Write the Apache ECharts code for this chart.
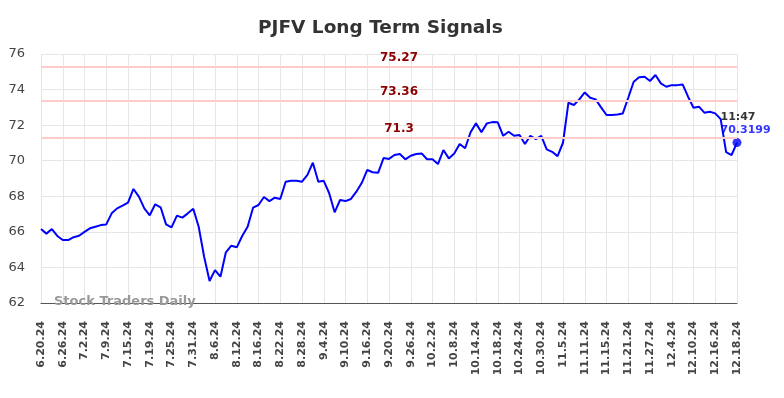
<!DOCTYPE html>
<html>
<head>
<meta charset="utf-8">
<title>PJFV Long Term Signals</title>
<script src="https://cdn.jsdelivr.net/npm/echarts@6/dist/echarts.min.js"></script>
<style>
  html, body { margin: 0; padding: 0; background: #fff; }
  #chart { width: 784px; height: 398px; }
</style>
</head>
<body>
<div id="chart"></div>
<script>
// x tick labels, one every 4 points
const tickLabels = [
  "6.20.24", "6.26.24", "7.2.24", "7.9.24", "7.15.24", "7.19.24", "7.25.24", "7.31.24",
  "8.6.24", "8.12.24", "8.16.24", "8.22.24", "8.28.24", "9.4.24", "9.10.24", "9.16.24",
  "9.20.24", "9.26.24", "10.2.24", "10.8.24", "10.14.24", "10.18.24", "10.24.24", "10.30.24",
  "11.5.24", "11.11.24", "11.15.24", "11.21.24", "11.27.24", "12.4.24", "12.10.24", "12.16.24",
  "12.18.24"
];

// closing prices
const prices = [
  66.16, 65.90, 66.16, 65.77, 65.54, 65.54, 65.70, 65.78, 66.00, 66.20,
  66.29, 66.38, 66.42, 67.04, 67.32, 67.47, 67.64, 68.41, 67.98, 67.32,
  66.93, 67.55, 67.38, 66.42, 66.25, 66.91, 66.80, 67.04, 67.30, 66.29,
  64.60, 63.24, 63.85, 63.48, 64.85, 65.22, 65.13, 65.77, 66.29, 67.36,
  67.51, 67.96, 67.73, 67.92, 67.85, 68.82, 68.87, 68.87, 68.82, 69.20,
  69.89, 68.82, 68.87, 68.17, 67.10, 67.79, 67.73, 67.85, 68.26, 68.76,
  69.48, 69.35, 69.32, 70.15, 70.10, 70.32, 70.38, 70.08, 70.28, 70.38,
  70.41, 70.08, 70.08, 69.81, 70.60, 70.13, 70.41, 70.94, 70.70, 71.60,
  72.10, 71.60, 72.10, 72.17, 72.16, 71.40, 71.63, 71.40, 71.44, 70.94,
  71.40, 71.22, 71.39, 70.64, 70.50, 70.26, 71.01, 73.26, 73.13, 73.45,
  73.84, 73.54, 73.45, 73.00, 72.57, 72.57, 72.60, 72.66, 73.54, 74.44,
  74.69, 74.72, 74.48, 74.82, 74.35, 74.16, 74.25, 74.25, 74.29, 73.60,
  72.98, 73.04, 72.70, 72.75, 72.66, 72.34, 70.48, 70.32, 71.02
];

// signal levels
const levels = [75.27, 73.36, 71.3];

const lastTime = "11:47";
const lastQuote = "70.3199";

const lastIndex = prices.length - 1;
const chart = echarts.init(document.getElementById("chart"));

chart.setOption({
  animation: false,
  textStyle: { fontFamily: "DejaVu Sans" },
  title: {
    text: "PJFV Long Term Signals",
    left: 253,
    top: 14,
    textStyle: { fontSize: 18.5, fontWeight: "bold", color: "#333" },
  },
  grid: { left: 41, right: 47, top: 54, bottom: 95 },
  xAxis: {
    type: "value",
    min: 0,
    max: lastIndex,
    interval: 4,
    axisLine: { show: true, onZero: false, lineStyle: { color: "#555", width: 1 } },
    axisTick: { show: false },
    splitLine: { show: true, lineStyle: { color: "#e6e6e6", width: 1 } },
    axisLabel: {
      rotate: 90,
      margin: 18,
      fontSize: 11,
      fontWeight: "bold",
      color: "#444",
      formatter: (v) => tickLabels[Math.round(v / 4)] || "",
    },
  },
  yAxis: {
    type: "value",
    min: 62,
    max: 76,
    interval: 2,
    axisLine: { show: false },
    axisTick: { show: false },
    splitLine: { show: true, lineStyle: { color: "#e6e6e6", width: 1 } },
    axisLabel: { fontSize: 13, color: "#444", margin: 16 },
  },
  series: [
    {
      name: "price",
      type: "line",
      data: prices.map((p, i) => [i, p]),
      showSymbol: false,
      lineStyle: { color: "#0000ff", width: 2 },
      z: 3,
      markLine: {
        silent: true,
        symbol: "none",
        lineStyle: { color: "#ffcccc", width: 2, type: "solid" },
        label: {
          position: "insideMiddleTop",
          distance: 3,
          padding: [0, 0, 0, 20],
          color: "#8b0000",
          fontSize: 12,
          fontWeight: "bold",
          formatter: (p) => String(p.value),
        },
        data: levels.map((v) => ({ yAxis: v })),
      },
    },
    {
      name: "last",
      type: "scatter",
      data: [[lastIndex, prices[lastIndex]]],
      symbolSize: 9,
      itemStyle: { color: "#0000ff" },
      z: 4,
      label: {
        show: true,
        position: [-12, -27],
        align: "left",
        verticalAlign: "top",
        formatter: "{t|" + lastTime + "}\n{v|" + lastQuote + "}",
        rich: {
          t: { color: "#000", fontSize: 11, fontWeight: "bold", lineHeight: 13 },
          v: { color: "#0000ff", fontSize: 11, fontWeight: "bold", lineHeight: 13 },
        },
      },
    },
  ],
  graphic: [
    {
      type: "text",
      left: 54,
      top: 295,
      z: 10,
      style: {
        text: "Stock Traders Daily",
        fill: "#999",
        font: "bold 13px 'DejaVu Sans'",
      },
    },
  ],
});
</script>
</body>
</html>
